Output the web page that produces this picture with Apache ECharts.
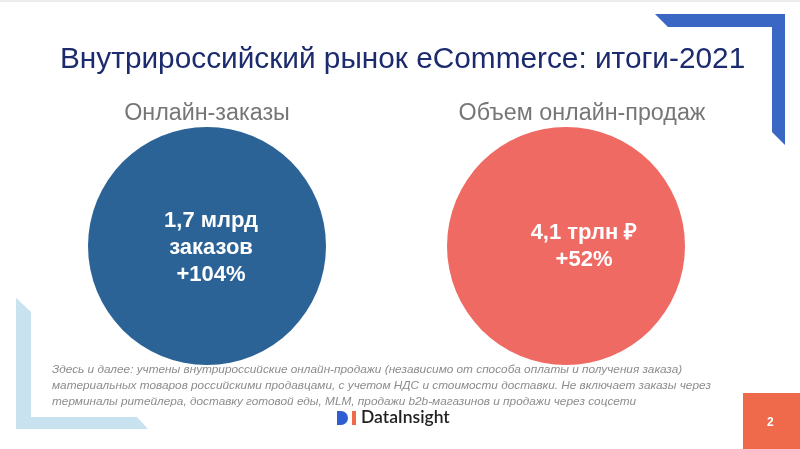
<!DOCTYPE html>
<html>
<head>
<meta charset="utf-8">
<script src="https://cdn.jsdelivr.net/npm/echarts@6/dist/echarts.min.js"></script>
<style>
html,body{margin:0;padding:0;background:#fff;}
#c{width:800px;height:449px;}
</style>
</head>
<body>
<div id="c"></div>
<script>
// ---- data ----
const categories = ['Онлайн-заказы', 'Объем онлайн-продаж'];
const values = [1.7, 4.1];
const units = ['млрд\nзаказов', 'трлн ₽'];
const growth = [104, 52];
const circleColors = ['#2c6396', '#ee6a63'];
const titleText = 'Внутрироссийский рынок eCommerce: итоги-2021';
const footnoteLines = [
  'Здесь и далее: учтены внутрироссийские онлайн-продажи (независимо от способа оплаты и получения заказа)',
  'материальных товаров российскими продавцами, с учетом НДС и стоимости доставки. Не включает заказы через',
  'терминалы ритейлера, доставку готовой еды, MLM, продажи b2b-магазинов и продажи через соцсети'
];
const pageNumber = '2';

const chart = echarts.init(document.getElementById('c'), null, {renderer: 'canvas'});
const font = '"Liberation Sans", Arial, Helvetica, sans-serif';

const cx = [207, 566];
const cy = 246;
const labelOffsets = [[4, 2], [18, 0]];

const graphics = [
  {type: 'rect', shape: {x: 0, y: 0, width: 800, height: 2}, style: {fill: '#ececec'}, silent: true},
  {type: 'polygon', shape: {points: [[655,14],[785,14],[785,145],[772,132],[772,27],[668,27]]},
   style: {fill: '#3a67c4'}, silent: true},
  {type: 'polygon', shape: {points: [[16,298],[31,312],[31,417],[137,417],[148,429],[16,429]]},
   style: {fill: '#c8e2ef'}, silent: true},
  {type: 'rect', shape: {x: 337, y: 411, width: 4, height: 14}, style: {fill: '#2d5fd3'}, silent: true},
  {type: 'sector', shape: {cx: 341, cy: 418, r0: 0, r: 7, startAngle: -Math.PI / 2, endAngle: Math.PI / 2},
   style: {fill: '#2d5fd3'}, silent: true},
  {type: 'rect', shape: {x: 352, y: 411, width: 4, height: 14}, style: {fill: '#ee6a4a'}, silent: true},
  {type: 'text', x: 361, y: 408,
   style: {text: 'DataInsight', font: '600 17.5px Lato, "Open Sans", sans-serif', fill: '#222222'}, silent: true},
  {type: 'rect', shape: {x: 743, y: 393, width: 57, height: 56}, style: {fill: '#ee6a4b'}, silent: true},
  {type: 'text', x: 767, y: 417,
   style: {text: pageNumber, font: 'bold 12px ' + font, fill: '#ffffff'}, silent: true}
];
footnoteLines.forEach((t, k) => {
  graphics.push({type: 'text', x: 52, y: 364 + k * 15.7,
    style: {text: t, font: 'italic 11.8px ' + font, fill: '#8c8c8c'}, silent: true});
});

const option = {
  animation: false,
  backgroundColor: '#ffffff',
  title: [
    {text: titleText, left: 55, top: 40,
     textStyle: {fontFamily: font, fontSize: 29.8, fontWeight: 'normal', color: '#1b2b6d'}},
    {text: categories[0], left: 202, top: 97, textAlign: 'center',
     textStyle: {fontFamily: font, fontSize: 23.3, fontWeight: 'normal', color: '#767676'}},
    {text: categories[1], left: 577, top: 97, textAlign: 'center',
     textStyle: {fontFamily: font, fontSize: 23.3, fontWeight: 'normal', color: '#767676'}}
  ],
  grid: {left: cx[0], right: 800 - cx[1], top: cy - 100, bottom: 449 - cy - 100, show: false},
  xAxis: {type: 'value', min: 0, max: 1, show: false},
  yAxis: {type: 'value', min: 0, max: 1, show: false},
  series: [{
    type: 'scatter',
    symbol: 'circle',
    symbolSize: 238,
    itemStyle: {opacity: 1},
    data: values.map((v, i) => ({
      value: [i, 0.5],
      itemStyle: {color: circleColors[i], opacity: 1},
      label: {offset: labelOffsets[i]}
    })),
    label: {
      show: true,
      position: 'inside',
      color: '#ffffff',
      fontFamily: font,
      fontSize: 22,
      fontWeight: 'bold',
      lineHeight: 27,
      align: 'center',
      formatter: p => {
        const i = p.dataIndex;
        return String(values[i]).replace('.', ',') + ' ' + units[i] + '\n+' + growth[i] + '%';
      }
    },
    silent: true
  }],
  graphic: graphics
};
chart.setOption(option);
</script>
</body>
</html>
